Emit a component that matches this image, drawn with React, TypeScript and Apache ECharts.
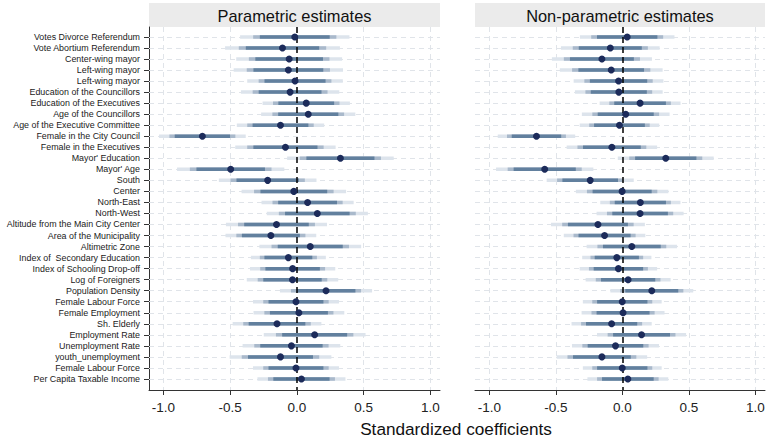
import React, { useEffect, useRef } from "react";
import * as echarts from "echarts";

const labels = [
  "Votes Divorce Referendum",
  "Vote Abortium Referendum",
  "Center-wing mayor",
  "Left-wing mayor",
  "Left-wing mayor",
  "Education of the Councillors",
  "Education of the Executives",
  "Age of the Councillors",
  "Age of the Executive Committee",
  "Female in the City Council",
  "Female in the Executives",
  "Mayor' Education",
  "Mayor' Age",
  "South",
  "Center",
  "North-East",
  "North-West",
  "Altitude from the Main City Center",
  "Area of the Municipality",
  "Altimetric Zone",
  "Index of  Secondary Education",
  "Index of Schooling Drop-off",
  "Log of Foreigners",
  "Population Density",
  "Female Labour Force",
  "Female Employment",
  "Sh. Elderly",
  "Employment Rate",
  "Unemployment Rate",
  "youth_unemployment",
  "Female Labour Force",
  "Per Capita Taxable Income",
];

const coefParam = [
  -0.016, -0.108, -0.058, -0.064, -0.014, -0.051, 0.07, 0.085, -0.123, -0.708,
  -0.086, 0.326, -0.496, -0.219, -0.023, 0.08, 0.153, -0.153, -0.195, 0.1,
  -0.064, -0.032, -0.033, 0.218, -0.007, 0.015, -0.149, 0.133, -0.041, -0.123,
  -0.007, 0.034,
];
const seParam = [
  0.159, 0.167, 0.154, 0.159, 0.139, 0.143, 0.127, 0.137, 0.127, 0.126,
  0.146, 0.155, 0.156, 0.142, 0.152, 0.134, 0.147, 0.147, 0.132, 0.148,
  0.109, 0.124, 0.133, 0.134, 0.125, 0.132, 0.129, 0.148, 0.142, 0.148,
  0.125, 0.128,
];
const coefNonParam = [
  0.036, -0.091, -0.154, -0.084, -0.029, -0.027, 0.133, 0.025, -0.022, -0.646,
  -0.079, 0.326, -0.584, -0.242, -0.002, 0.135, 0.133, -0.184, -0.134, 0.071,
  -0.042, -0.03, 0.043, 0.221, -0.001, 0.005, -0.081, 0.144, -0.052, -0.154,
  -0.001, 0.041,
];
const seNonParam = [
  0.138, 0.144, 0.146, 0.15, 0.131, 0.128, 0.118, 0.128, 0.116, 0.113,
  0.132, 0.14, 0.142, 0.127, 0.135, 0.117, 0.127, 0.137, 0.119, 0.132,
  0.101, 0.113, 0.124, 0.121, 0.115, 0.121, 0.117, 0.13, 0.127, 0.132,
  0.115, 0.118,
];

// confidence levels 99%, 95%, 90%
const zValues = [2.576, 1.96, 1.645];
const xTicks = [-1, -0.5, 0, 0.5, 1];
const panelTitles = ["Parametric estimates", "Non-parametric estimates"];
const axisTitle = "Standardized coefficients";

const ciColors = ["#dde4ec", "#a9b9cb", "#62809e"];
const dotColor = "#1c2b5a";
const FONT = "'Liberation Sans', Arial, sans-serif";

export default function App() {
  const ref = useRef<HTMLDivElement>(null);

  useEffect(() => {
    document.body.style.margin = "0";
    const chart = echarts.init(ref.current!, null, { renderer: "svg" });
    const rowIdx = labels.map((_, i) => i);
    const panels = [
      { coef: coefParam, se: seParam },
      { coef: coefNonParam, se: seNonParam },
    ];

    const gridLineData: any[] = [
      ...rowIdx.map((i) => ({ yAxis: i })),
      ...xTicks.filter((v) => v !== 0).map((v) => ({ xAxis: v })),
    ];

    const series: any[] = [];
    panels.forEach((p, g) => {
      zValues.forEach((z, k) => {
        const data = p.coef.map((c, i) => [c - z * p.se[i], c + z * p.se[i], i]);
        const s: any = {
          type: "custom",
          xAxisIndex: g,
          yAxisIndex: g,
          z: 2 + k,
          silent: true,
          encode: { x: [0, 1], y: 2 },
          data,
          renderItem: (params: any, api: any) => {
            const y = api.value(2);
            const a = api.coord([api.value(0), y]);
            const b = api.coord([api.value(1), y]);
            return {
              type: "line",
              shape: { x1: a[0], y1: a[1], x2: b[0], y2: b[1] },
              style: { stroke: ciColors[k], lineWidth: 3.5 },
            };
          },
        };
        if (k === 0) {
          s.markLine = {
            silent: true,
            symbol: "none",
            label: { show: false },
            z: 1,
            lineStyle: { color: "#e0e4e9", width: 1, type: [5, 4] },
            data: gridLineData,
          };
        }
        if (k === 2) {
          s.markLine = {
            silent: true,
            symbol: "none",
            label: { show: false },
            lineStyle: { color: "#000", width: 1.5, type: [6, 4] },
            data: [{ xAxis: 0 }],
          };
        }
        series.push(s);
      });
      series.push({
        type: "scatter",
        xAxisIndex: g,
        yAxisIndex: g,
        z: 10,
        symbolSize: 7,
        itemStyle: { color: dotColor, opacity: 1 },
        data: p.coef.map((c, i) => [c, i]),
      });
    });

    const xAxisCommon = {
      type: "value",
      min: -1.108,
      max: 1.072,
      axisLine: { show: true, onZero: false, lineStyle: { color: "#333", width: 1 } },
      axisTick: { show: true, length: 5, customValues: xTicks, lineStyle: { color: "#333" } },
      axisLabel: {
        customValues: xTicks,
        formatter: (v: number) => v.toFixed(1),
        fontFamily: FONT,
        fontSize: 13.5,
        color: "#222",
        margin: 10,
      },
      splitLine: { show: false },
    };

    const yAxisCommon = {
      type: "value",
      inverse: true,
      min: -0.9,
      max: 32,
      splitLine: { show: false },
    };

    chart.setOption({
      animation: false,
      backgroundColor: "#ffffff",
      grid: [
        { left: 149, right: 328, top: 27, bottom: 50 },
        { left: 475, right: 3, top: 27, bottom: 50 },
      ],
      xAxis: [
        { ...xAxisCommon, gridIndex: 0 },
        { ...xAxisCommon, gridIndex: 1 },
      ],
      yAxis: [
        {
          ...yAxisCommon,
          gridIndex: 0,
          axisLine: { show: true, onZero: false, lineStyle: { color: "#333", width: 1 } },
          axisTick: { show: true, length: 5, customValues: rowIdx, lineStyle: { color: "#333" } },
          axisLabel: {
            customValues: rowIdx,
            formatter: (v: number) => labels[Math.round(v)] ?? "",
            fontFamily: FONT,
            fontSize: 8.9,
            color: "#1a1a1a",
            margin: 9,
          },
        },
        {
          ...yAxisCommon,
          gridIndex: 1,
          show: false,
        },
      ],
      graphic: [
        { type: "rect", shape: { x: 149, y: 3, width: 291, height: 24 }, style: { fill: "#ebebeb" }, silent: true },
        { type: "rect", shape: { x: 475, y: 3, width: 290, height: 24 }, style: { fill: "#ebebeb" }, silent: true },
        {
          type: "text",
          x: 294.5,
          y: 15.5,
          style: { text: panelTitles[0], fontFamily: FONT, fontSize: 16.4, fill: "#111", align: "center", verticalAlign: "middle" },
        },
        {
          type: "text",
          x: 620,
          y: 15.5,
          style: { text: panelTitles[1], fontFamily: FONT, fontSize: 16.4, fill: "#111", align: "center", verticalAlign: "middle" },
        },
        {
          type: "text",
          x: 456,
          y: 429,
          style: { text: axisTitle, fontFamily: FONT, fontSize: 17.2, fill: "#111", align: "center", verticalAlign: "middle" },
        },
      ],
      series,
    });
    return () => chart.dispose();
  }, []);

  return (
    <div
      ref={ref}
      style={{ position: "fixed", left: 0, top: 0, width: 768, height: 440, background: "#fff" }}
    />
  );
}
